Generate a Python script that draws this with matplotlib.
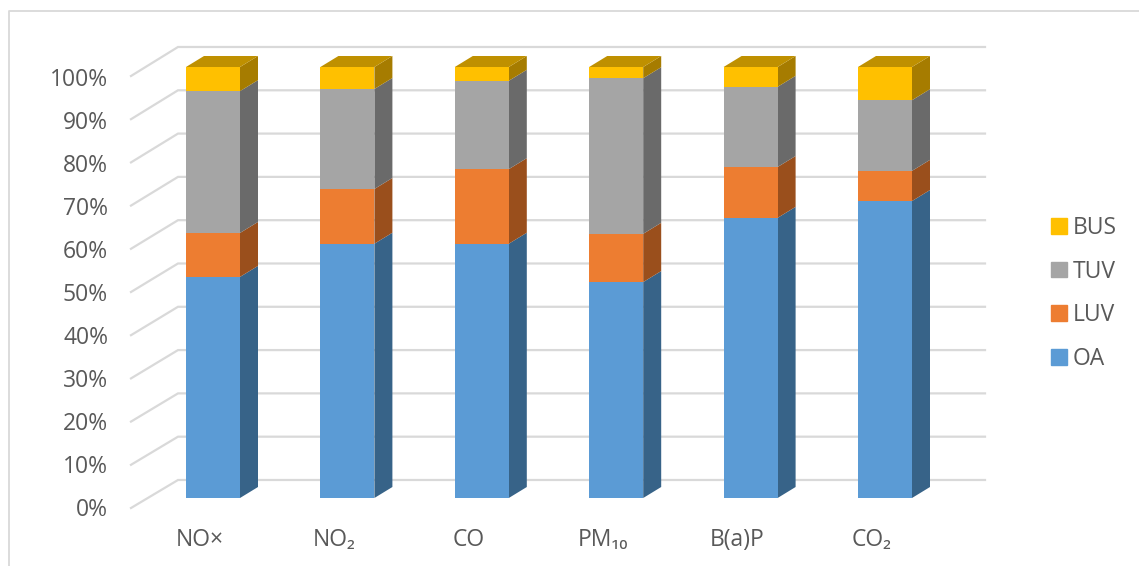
import matplotlib
matplotlib.use("Agg")
import matplotlib.pyplot as plt
from matplotlib.lines import Line2D
from matplotlib.patches import Patch, Polygon
from matplotlib.transforms import Affine2D

plt.rcParams['font.family'] = ['Open Sans', 'DejaVu Sans']

categories = ["NO×", "NO₂", "CO", "PM₁₀", "B(a)P", "CO₂"]
series_names = ["OA", "LUV", "TUV", "BUS"]
oa = [51.3, 59.0, 59.0, 50.1, 65.0, 68.9]
luv = [10.2, 12.7, 17.3, 11.2, 11.8, 7.0]
tuv = [32.9, 23.2, 20.5, 36.1, 18.6, 16.4]
bus = [5.6, 5.1, 3.2, 2.6, 4.6, 7.7]
y_ticks = [0, 10, 20, 30, 40, 50, 60, 70, 80, 90, 100]
y_labels = ["0%", "10%", "20%", "30%", "40%", "50%", "60%", "70%", "80%", "90%", "100%"]

front_colors = ["#5B9BD5", "#ED7D31", "#A5A5A5", "#FFC000"]
side_colors = ["#376388", "#9A4F1C", "#6A6A6A", "#A67C00"]
top_color = "#BF9000"
grid_color = "#D9D9D9"
text_color = "#595959"
font_size = 16.5

W, H = 1139, 566
step = 134.4  # px between bars
px_y = 4.31   # px per percent
width = 54 / step
dx = 18 / step
dy = 11 / px_y

fig = plt.figure(figsize=(W / 100, H / 100), dpi=100)
ax = fig.add_axes([131 / W, (H - 498) / H, (985 - 131) / W, (498 - 47) / H])
ax.set_xlim((131 - 213) / step, (985 - 213) / step)
ax.set_ylim(0, (498 - 47) / px_y)
for s in ax.spines.values():
    s.set_visible(False)

# back wall gridlines + the slanted bit going to the labels
x_left, x_back, x_right = ax.get_xlim()[0], (178 - 213) / step, ax.get_xlim()[1]
for v in y_ticks:
    y_back = 4.18 + v * 433 / 431
    y_front = -2.32 + v * 432 / 431
    ax.plot([x_left, x_back, x_right], [y_front, y_back, y_back], color=grid_color,
            lw=1.6, clip_on=False, zorder=1, solid_joinstyle='miter')

# stacked bars, front faces then the fake 3d sides
x_pos = list(range(len(categories)))
bottoms = [0] * len(categories)
for name, vals, fc, sc in zip(series_names, [oa, luv, tuv, bus], front_colors, side_colors):
    ax.bar(x_pos, vals, width, bottom=bottoms, color=fc, zorder=3, label=name)
    for x, b, v in zip(x_pos, bottoms, vals):
        r = x + width / 2
        ax.add_patch(Polygon([(r, b), (r + dx, b + dy), (r + dx, b + v + dy), (r, b + v)],
                             closed=True, facecolor=sc, edgecolor='none', zorder=2.5))
    bottoms = [b + v for b, v in zip(bottoms, vals)]

for x, t in zip(x_pos, bottoms):
    l, r = x - width / 2, x + width / 2
    ax.add_patch(Polygon([(l, t), (r, t), (r + dx, t + dy), (l + dx, t + dy)],
                         closed=True, facecolor=top_color, edgecolor='none', zorder=2.5))

ax.set_xlim((131 - 213) / step, (985 - 213) / step)
ax.set_ylim(0, (498 - 47) / px_y)

ax.set_yticks(y_ticks)
ax.set_yticklabels(y_labels)
ax.set_xticks(x_pos)
ax.set_xticklabels(categories)
ax.tick_params(axis='y', length=0, pad=16.5, labelsize=font_size, labelcolor=text_color)
ax.tick_params(axis='x', length=0, pad=21.7, labelsize=font_size, labelcolor=text_color)
for lab in ax.get_yticklabels():
    lab.set_transform(lab.get_transform() + Affine2D().translate(0, -9.5))
for lab in ax.get_xticklabels():
    lab.set_transform(lab.get_transform() + Affine2D().translate(-13, 0))

handles = [Patch(color=c, label=n) for c, n in zip(front_colors, series_names)][::-1]
ax.legend(handles=handles, loc='center left', bbox_to_anchor=(1051 / W, (H - 293.5) / H),
          bbox_transform=fig.transFigure, frameon=False, fontsize=font_size, labelcolor=text_color,
          handlelength=0.68, handleheight=0.68, handletextpad=0.28, labelspacing=0.86,
          borderpad=0, borderaxespad=0)

# outer chart border, only left and top are in the crop
fig.add_artist(Line2D([9 / W, 9 / W, 1], [0, (H - 10.5) / H, (H - 10.5) / H],
                      color=grid_color, lw=1.3))

fig.savefig("out.png", dpi=100)
